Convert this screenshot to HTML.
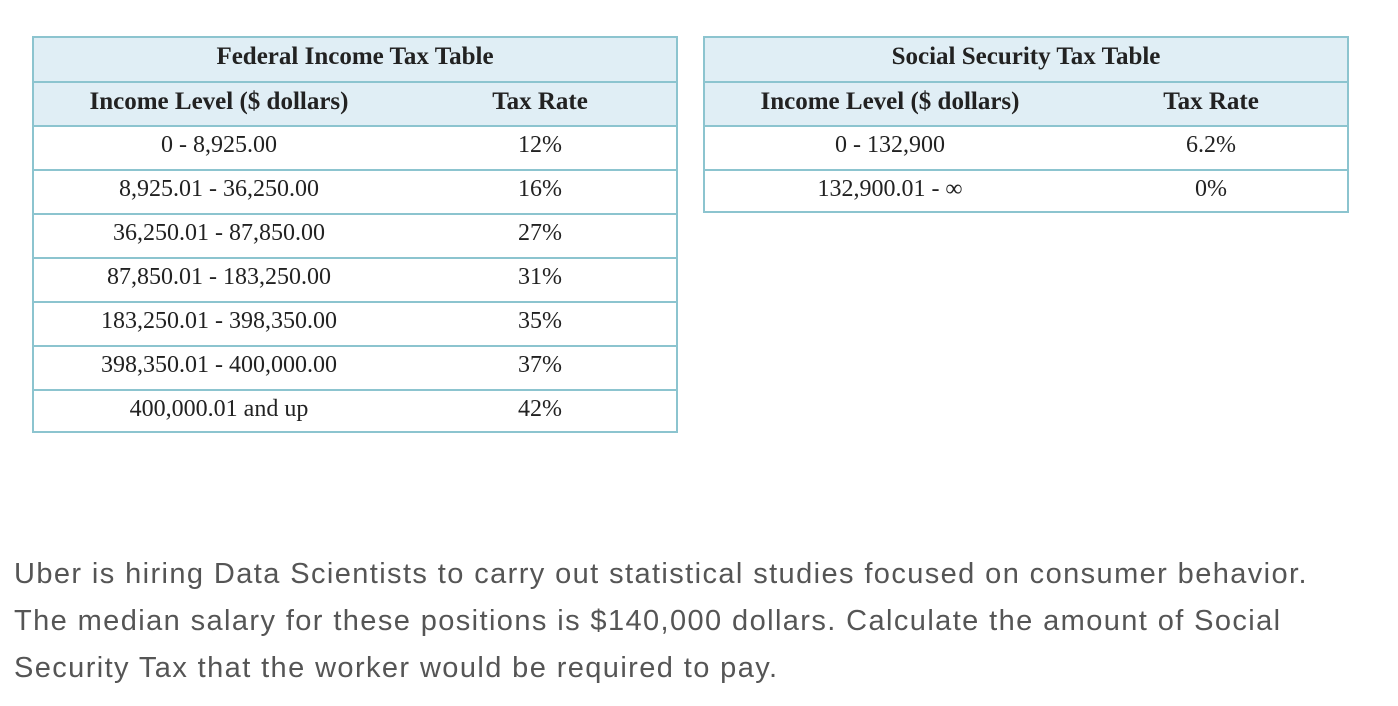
<!DOCTYPE html>
<html><head><meta charset="utf-8"><style>
body{margin:0;width:1398px;height:706px;background:#fff;position:relative;overflow:hidden}
.t{position:absolute;border:2px solid #8cc4cf;box-sizing:border-box;font-family:"Liberation Serif",serif;color:#222}
.r{position:absolute;left:0;right:0;border-top:2px solid #8cc4cf;box-sizing:border-box}
.h{background:#e0eef5}
.c{position:absolute;top:0;bottom:6px;display:flex;align-items:center;justify-content:center;font-size:24px}
.b{font-weight:bold;font-size:25px}
p{position:absolute;left:14px;top:551px;margin:0;font-family:"Liberation Sans",sans-serif;font-weight:300;font-size:29px;letter-spacing:1.4px;line-height:47px;color:#555;width:1384px;white-space:nowrap}
</style></head><body>
<div class="t" style="left:32px;top:36px;width:646px;height:397px" id="fed"></div>
<div class="t" style="left:703px;top:36px;width:646px;height:177px" id="ss"></div>
<p>Uber is hiring Data Scientists to carry out statistical studies focused on consumer behavior.<br>The median salary for these positions is $140,000 dollars. Calculate the amount of Social<br>Security Tax that the worker would be required to pay.</p>
<script>
const fedRows=[["0 - 8,925.00","12%"],["8,925.01 - 36,250.00","16%"],["36,250.01 - 87,850.00","27%"],["87,850.01 - 183,250.00","31%"],["183,250.01 - 398,350.00","35%"],["398,350.01 - 400,000.00","37%"],["400,000.01 and up","42%"]];
const ssRows=[["0 - 132,900","6.2%"],["132,900.01 - ∞","0%"]];
function build(id,title,rows,pref){
  const t=document.getElementById(id);const rh=44;
  function row(i,cls){const r=document.createElement('div');r.className='r '+cls;r.style.top=(i*rh-(i?1:0))+'px';r.style.height=(rh+(i?1:0))+'px';if(!i)r.style.borderTop='none';t.appendChild(r);return r;}
  function cell(r,txt,l,w,b){const c=document.createElement('div');c.className='c'+(b?' b':'');c.style.left=l+'px';c.style.width=w+'px';c.textContent=txt;
    
    
    r.appendChild(c);}
  let r=row(0,'h');
  
  
  cell(r,title,0,642,true);
  r=row(1,'h');
  
  
  cell(r,'Income Level ($ dollars)',0,370,true);cell(r,'Tax Rate',370,272,true);
  rows.forEach((d,i)=>{const rr=row(i+2,'');
    
    
    cell(rr,d[0],0,370,false);cell(rr,d[1],370,272,false);});
}
build('fed','Federal Income Tax Table',fedRows,'federal');
build('ss','Social Security Tax Table',ssRows,'social-security');
</script>
</body></html>
